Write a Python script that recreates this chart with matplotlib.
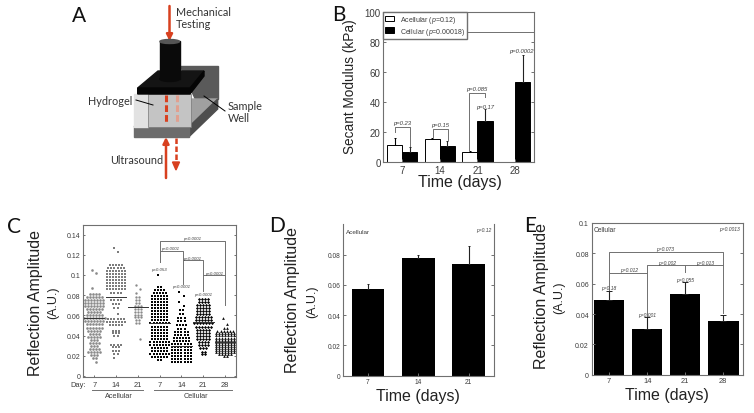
import matplotlib
matplotlib.use('Agg')
import matplotlib.pyplot as plt
from matplotlib.patches import Polygon, Rectangle, Ellipse

plt.rcParams['font.family'] = ['Liberation Sans', 'DejaVu Sans']
plt.rcParams['mathtext.fontset'] = 'custom'
plt.rcParams['mathtext.rm'] = 'Liberation Sans'
plt.rcParams['mathtext.it'] = 'Liberation Sans:italic'

W, H = 754, 414
RED = '#d8401f'
GREY = '#707070'
TXT = '#3c3c3c'

# panel B
days_b = ['7', '14', '21', '28']
acellular_b = [11.5, 15, 6.7]
acellular_b_err = [4.5, 0.7, 0.8]
cellular_b = [6.5, 10.5, 27, 53]
cellular_b_err = [3.7, 3.5, 8, 18.5]

# panel C: rows of points (level, number of points in that row)
groups_c = ['7', '14', '21', '7', '14', '21', '28']
a7_levels = [.105, .102, .087, .081, .078, .075, .072, .069, .066, .063, .060, .057, .054, .051,
             .048, .045, .042, .039, .036, .033, .030, .027, .024, .021, .018, .014]
a7_counts = [1, 1, 1, 4, 6, 7, 7, 7, 6, 5, 6, 8, 7, 6, 6, 5, 4, 5, 3, 4, 3, 4, 5, 3, 2, 1]
a14_levels = [.127, .123, .110, .107, .104, .101, .098, .095, .092, .089, .086, .082, .075, .071,
              .067, .061, .056, .053, .050, .045, .043, .040, .031, .029, .025, .022, .018]
a14_counts = [1, 1, 5, 6, 7, 7, 7, 7, 7, 7, 7, 4, 4, 3, 2, 1, 6, 7, 5, 3, 3, 2, 4, 3, 3, 2, 1]
a21_levels = [.090, .086, .082, .078, .075, .072, .069, .066, .063, .060, .058, .055, .052, .037]
a21_counts = [1, 1, 1, 2, 2, 2, 3, 3, 3, 3, 3, 2, 2, 1]
c7_levels = [.100, .088, .085, .082, .079, .076, .073, .070, .067, .064, .061, .058, .055, .052, .049,
             .046, .043, .040, .037, .034, .031, .028, .025, .022, .019, .016]
c7_counts = [1, 2, 4, 5, 6, 6, 6, 6, 6, 6, 6, 6, 6, 7, 6, 6, 6, 6, 6, 7, 7, 6, 6, 7, 6, 2]
c14_levels = [.083, .079, .073, .069, .065, .061, .057, .054, .050, .047, .044, .041, .038, .035,
              .032, .029, .026, .023, .020, .017, .014]
c14_counts = [1, 1, 1, 1, 2, 2, 3, 3, 4, 3, 5, 5, 6, 6, 7, 7, 7, 7, 7, 7, 7]
c21_levels = [.076, .073, .070, .067, .064, .061, .058, .055, .052, .049, .046, .043, .040, .037,
              .034, .031, .028, .024, .022]
c21_counts = [4, 4, 5, 5, 5, 5, 6, 6, 7, 6, 5, 5, 5, 5, 4, 4, 3, 2, 2]
c28_levels = [.057, .051, .048, .045, .043, .041, .038, .036, .034, .032, .030, .028, .026, .024, .022, .020]
c28_counts = [1, 1, 2, 6, 7, 7, 7, 7, 7, 7, 7, 7, 7, 7, 5, 2]
medians_c = [.057, .078, .068, .052, .030, .053, .034]

# panel D
days_d = ['7', '14', '21']
acellular_d = [.057, .0775, .074]
acellular_d_err = [.0035, .002, .012]

# panel E
days_e = ['7', '14', '21', '28']
cellular_e = [.049, .030, .053, .0355]
cellular_e_err = [.006, .008, .008, .004]
p_e = ['p=0.18', 'p=0.001', 'p=0.055', '']


def px_axes(fig, left, top, right, bottom):
    # axes rectangle given in image pixels
    return fig.add_axes([left / W, 1 - bottom / H, (right - left) / W, (bottom - top) / H])


def style(ax, size):
    for s in ax.spines.values():
        s.set_color(GREY)
        s.set_linewidth(0.8)
    ax.tick_params(direction='in', top=False, right=True, length=2, width=0.7, color=GREY,
                   labelsize=size, labelcolor=TXT, pad=2)


def bracket(ax, x0, x1, y, y0, y1):
    ax.plot([x0, x0, x1, x1], [y0, y, y, y1], color=GREY, lw=0.7, clip_on=False)


def ptext(ax, x, y, s, size=4.2):
    ax.text(x, y, s, fontsize=size, style='italic', color=TXT, ha='center', va='center')


def draw_rows(ax, x, levels, counts, marker, color, ms):
    dx = 0.14
    xs, ys = [], []
    for i, (lev, n) in enumerate(zip(levels, counts)):
        shift = (dx if i % 2 else -dx) * 0.7 if n == 1 else 0
        for k in range(n):
            xs.append(x + (k - (n - 1) / 2) * dx + shift)
            ys.append(lev)
    ax.plot(xs, ys, ls='none', marker=marker, color=color, ms=ms, mew=0)


def draw_schematic(ov):
    ov.add_patch(Polygon([[180, 67], [217.7, 67], [217.7, 100], [195, 100]], color='#5a5a5a'))
    ov.add_patch(Polygon([[134, 127.7], [189, 127.7], [217.7, 100], [160, 100]], color='#a0a0a0'))
    ov.add_patch(Polygon([[189, 127.7], [189, 137.7], [217.7, 110], [217.7, 100]], color='#4e4e4e'))
    ov.add_patch(Rectangle((134, 127.7), 55, 10, color='#6c6c6c'))
    ov.add_patch(Polygon([[134, 95], [148, 95], [148, 127.7], [134, 127.7]], color='#e2e2e2'))
    ov.add_patch(Rectangle((148, 95), 43, 32.7, fc='#c4c4c4', ec='#777777', lw=0.5))
    ov.add_patch(Polygon([[137.7, 89], [158, 72], [204, 72], [190, 89]], color='#141414'))
    ov.add_patch(Polygon([[137.7, 89], [190, 89], [204, 72], [204, 77], [190, 95], [137.7, 95]], color='#050505'))
    ov.add_patch(Rectangle((160, 42), 19.5, 38, color='#0a0a0a', zorder=3))
    ov.add_patch(Ellipse((169.7, 80), 19.5, 5, color='#0a0a0a', zorder=3))
    ov.add_patch(Ellipse((169.7, 42.5), 19.5, 4, color='#555555', zorder=4))
    ov.plot([165.7, 165.7], [96, 125], color=RED, lw=2.2, ls=(0, (2.2, 1)))
    ov.plot([176.7, 176.7], [96, 125], color='#e0a090', lw=2.2, ls=(0, (2.2, 1)))
    ov.annotate('', xy=(169.5, 42), xytext=(169.5, 7),
                arrowprops=dict(arrowstyle='-|>', color=RED, lw=1.8, mutation_scale=9, shrinkA=0, shrinkB=0))
    ov.annotate('', xy=(166, 138), xytext=(166, 179),
                arrowprops=dict(arrowstyle='-|>', color=RED, lw=1.8, mutation_scale=9, shrinkA=0, shrinkB=0))
    ov.plot([176, 176], [139, 163], color=RED, lw=1.8, ls=(0, (2.2, 1)))
    ov.add_patch(Polygon([[172.5, 163], [179.5, 163], [176, 171]], color=RED))
    ov.plot([136, 153], [101, 106], color='k', lw=0.7, zorder=5)
    ov.plot([204, 225], [97, 112], color='k', lw=0.7, zorder=5)
    for x, y, s, ha in [(176, 13, 'Mechanical', 'left'), (176, 25, 'Testing', 'left'),
                        (132, 102, 'Hydrogel', 'right'), (228, 107, 'Sample', 'left'),
                        (228, 119, 'Well', 'left'), (163, 161, 'Ultrasound', 'right')]:
        ov.text(x, y, s, fontsize=7.8, family='Lato', color='#333333', ha=ha, va='center')


fig = plt.figure(figsize=(W / 100, H / 100), dpi=100)
ov = fig.add_axes([0, 0, 1, 1])
ov.set_xlim(0, W)
ov.set_ylim(H, 0)
ov.axis('off')
draw_schematic(ov)

for x, y, s in [(79, 16, 'A'), (339, 15, 'B'), (14, 227, 'C'), (277, 226, 'D'), (530, 226, 'E')]:
    ov.text(x, y, s, fontsize=15, family='Lato', color='#111111', ha='center', va='center')

for x, y, s, size in [(350, 87, 'Secant Modulus (kPa)', 9.8), (36, 303, 'Reflection Amplitude', 11.5),
                      (53, 303, '(A.U.)', 9), (293, 300, 'Reflection Amplitude', 11.5),
                      (312, 302, '(A.U.)', 9), (541.7, 296, 'Reflection Amplitude', 11.5),
                      (559, 298, '(A.U.)', 9)]:
    ov.text(x, y, s, fontsize=size, color='#222222', rotation=90, ha='center', va='center')
for x, y, s in [(460, 183, 'Time (days)'), (418, 397, 'Time (days)'), (667, 396, 'Time (days)')]:
    ov.text(x, y, s, fontsize=11.5, color='#222222', ha='center', va='center')

# B
ax = px_axes(fig, 383.3, 12.7, 534, 163)
style(ax, 7)
xb = list(range(len(days_b)))
ax.bar([x - 0.2 for x in xb[:3]], acellular_b, 0.4, fc='white', ec='k', lw=0.7, label='Acellular ($\\it{p}$=0.12)')
ax.bar([x + 0.2 for x in xb], cellular_b, 0.4, fc='k', ec='k', lw=0.7, label='Cellular ($\\it{p}$=0.00018)')
ax.errorbar([x - 0.2 for x in xb[:3]], acellular_b, yerr=[[0] * 3, acellular_b_err], fmt='none', ecolor='k',
            elinewidth=0.8, capsize=1, capthick=0.7)
ax.errorbar([x + 0.2 for x in xb], cellular_b, yerr=[[0] * 4, cellular_b_err], fmt='none', ecolor='#222222',
            elinewidth=0.8, capsize=1, capthick=0.7)
ax.set_xlim(-0.5, 3.5)
ax.set_ylim(0, 100)
ax.set_xticks(xb, days_b)
ax.set_yticks([0, 20, 40, 60, 80, 100])
ax.axhline(86.5, color=GREY, lw=0.7)
ax.legend(loc='upper left', fontsize=5.0, fancybox=False, edgecolor=GREY, framealpha=1, borderaxespad=0,
          handlelength=1.3, handleheight=0.9, borderpad=0.3, labelspacing=0.12, handletextpad=0.8,
          labelcolor=TXT)
bracket(ax, -0.2, 0.2, 23, 20, 10.5)
bracket(ax, 0.81, 1.22, 22, 16.5, 14.5)
bracket(ax, 1.78, 2.2, 46, 7.9, 43)
for x, y, s in [(0, 26, 'p=0.23'), (1.01, 25, 'p=0.15'), (1.99, 49, 'p=0.085'), (2.2, 37, 'p=0.17'), (3.16, 74, 'p=0.0002')]:
    ptext(ax, x, y, s)

# C
ax = px_axes(fig, 83.3, 226, 236, 378)
style(ax, 5)
ax.tick_params(length=1.5)
for i, (lev, cnt, mk, col, ms) in enumerate([
        (a7_levels, a7_counts, 'o', '#8a8a8a', 1.9),
        (a14_levels, a14_counts, 's', '#7c7c7c', 1.9),
        (a21_levels, a21_counts, 'o', '#8a8a8a', 1.7),
        (c7_levels, c7_counts, 's', '#050505', 2.0),
        (c14_levels, c14_counts, 's', '#050505', 2.15),
        (c21_levels, c21_counts, 'D', '#050505', 1.6),
        (c28_levels, c28_counts, '^', '#101010', 2.0)]):
    draw_rows(ax, i, lev, cnt, mk, col, ms)
    ax.plot([i - 0.47, i + 0.47], [medians_c[i]] * 2, color='#333333', lw=0.7)
ax.set_xlim(-0.5, 6.5)
ax.set_ylim(-0.001, 0.1495)
ax.set_xticks(range(7), groups_c)
ax.set_yticks([0, .02, .04, .06, .08, .1, .12, .14], ['0', '0.02', '0.04', '0.06', '0.08', '0.1', '0.12', '0.14'])
ax.tick_params(axis='x', labelsize=5.4, pad=3)
bracket(ax, 3, 6, .1337, .1126, .070)
bracket(ax, 3, 4.05, .1238, .1126, .0908)
bracket(ax, 4.05, 5, .1146, .1146, .084)
bracket(ax, 5, 6, .0997, .0997, .0997)
for x, y, s in [(4.5, .1365, 'p<0.0001'), (3.5, .1265, 'p<0.0001'), (4.5, .1170, 'p<0.0001'), (5.5, .1020, 'p<0.0001'),
                (2.95, .1055, 'p=0.053'), (4.0, .0895, 'p<0.0001'), (5.0, .0815, 'p<0.0001')]:
    ptext(ax, x, y, s, 3.2)
ov.text(70, 386, 'Day:', fontsize=5.4, color=TXT, ha='left', va='center')
ov.plot([92, 143], [391, 391], color=GREY, lw=0.7)
ov.plot([154, 232], [391, 391], color=GREY, lw=0.7)
ov.text(119, 396.5, 'Acellular', fontsize=5.2, color=TXT, ha='center', va='center')
ov.text(196, 396.5, 'Cellular', fontsize=5.2, color=TXT, ha='center', va='center')

# D
ax = px_axes(fig, 343.3, 225.4, 494, 376.7)
style(ax, 4.8)
xd = list(range(len(days_d)))
ax.bar(xd, acellular_d, 0.65, color='k')
ax.errorbar(xd, acellular_d, yerr=[[0] * 3, acellular_d_err], fmt='none', ecolor='#222222', elinewidth=0.8,
            capsize=1, capthick=0.7)
ax.set_xlim(-0.49, 2.5)
ax.set_ylim(0, 0.1)
ax.set_xticks(xd, days_d)
ax.set_yticks([0, .02, .04, .06, .08], ['0', '0.02', '0.04', '0.06', '0.08'])
ax.spines['top'].set_visible(False)
ax.text(-0.44, .0955, 'Acellular', fontsize=4.6, color=TXT, ha='left', va='center')
ptext(ax, 2.3, .0965, 'p=0.12', 3.6)

# E
ax = px_axes(fig, 591.7, 224, 742.7, 375.7)
style(ax, 5)
xe = list(range(len(days_e)))
ax.bar(xe, cellular_e, 0.8, color='k')
ax.errorbar(xe, cellular_e, yerr=[[0] * 4, cellular_e_err], fmt='none', ecolor='#222222', elinewidth=0.8,
            capsize=2, capthick=0.7)
ax.set_xlim(-0.46, 3.51)
ax.set_ylim(0, 0.1)
ax.set_xticks(xe, days_e)
ax.set_yticks([0, .02, .04, .06, .08, .1], ['0', '0.02', '0.04', '0.06', '0.08', '0.1'])
ax.tick_params(axis='x', labelsize=5.4)
bracket(ax, 0, 3, .0810, .0560, .0410)
bracket(ax, 0, 1, .0672, .0672, .0385)
bracket(ax, 1, 3, .0720, .0672, .0720)
ax.plot([2, 2], [.0720, .0680], color=GREY, lw=0.7)
for x, y, s in [(1.48, .0830, 'p=0.073'), (0.52, .0695, 'p=0.012'), (1.52, .0740, 'p=0.002'), (2.53, .0740, 'p=0.013')]:
    ptext(ax, x, y, s, 3.6)
for x, y, s in zip(xe, [.0575, .0400, .0630, 0], p_e):
    if s:
        ptext(ax, x, y, s, 3.6)
ptext(ax, 3.15, .0965, 'p=0.0013', 3.6)
ax.text(-0.4, .0955, 'Cellular', fontsize=4.8, color=TXT, ha='left', va='center')

fig.savefig('out.png', dpi=100)
